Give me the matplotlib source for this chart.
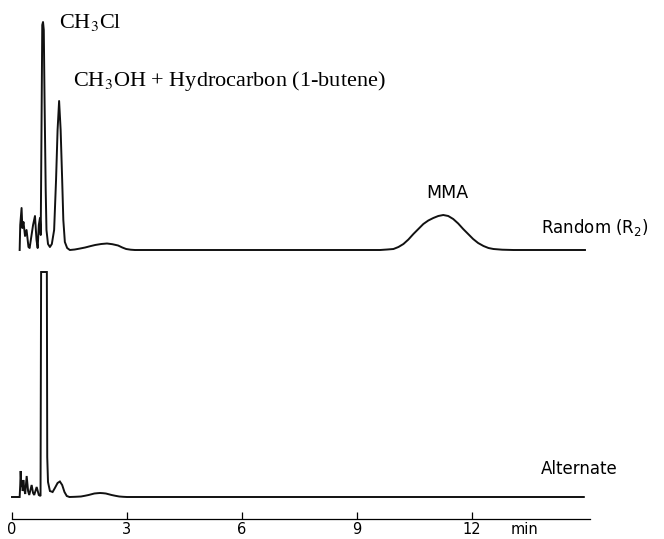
import matplotlib.pyplot as plt

# chromatogram traces, time in min, signal in arbitrary units above baseline
random_t = [0.20, 0.215, 0.25, 0.27, 0.30, 0.34, 0.38, 0.43, 0.46, 0.55, 0.60, 0.64,
            0.67, 0.70, 0.73, 0.75, 0.77, 0.79, 0.81, 0.83, 0.85, 0.88, 0.90, 0.94,
            0.99, 1.04, 1.10, 1.15, 1.19, 1.23, 1.27, 1.31, 1.34, 1.38, 1.44, 1.51,
            1.64, 1.78, 1.91, 2.04, 2.17, 2.33, 2.48, 2.62, 2.77, 2.88, 2.98, 3.10,
            3.21, 9.61, 9.80, 9.96, 10.09, 10.22, 10.35, 10.48, 10.61, 10.74, 10.87,
            11.00, 11.13, 11.26, 11.39, 11.52, 11.65, 11.78, 11.91, 12.04, 12.17,
            12.31, 12.44, 12.57, 12.80, 13.09, 14.96]
random_s = [0, 25, 42, 22, 28, 14, 20, 3, 2, 25, 34, 10,
            2, 25, 32, 15, 120, 225, 228, 220, 150, 60, 20, 6,
            3, 6, 20, 70, 120, 149, 120, 70, 30, 8, 2, 0,
            0.5, 1.5, 2.5, 3.8, 5, 6, 6.5, 5.8, 4.5, 2.5, 1, 0.3,
            0, 0, 0.5, 1, 3, 6, 10.5, 16, 21, 26, 29.5,
            32, 34, 35, 34, 31, 26.5, 21, 16, 11, 7,
            4, 2, 1, 0.3, 0, 0]

alternate_t = [0.0, 0.20, 0.215, 0.226, 0.245, 0.265, 0.28, 0.296, 0.32, 0.345, 0.383,
               0.42, 0.45, 0.513, 0.55, 0.58, 0.644, 0.70, 0.745, 0.76, 0.91, 0.92,
               0.94, 0.99, 1.06, 1.12, 1.19, 1.25, 1.31, 1.37, 1.43, 1.50, 1.65, 1.80,
               1.90, 2.00, 2.08, 2.15, 2.23, 2.30, 2.38, 2.45, 2.52, 2.60, 2.70, 2.80,
               2.90, 3.00, 14.93]
alternate_s = [0, 0, 12, 26, 10, 15, 6, 17, 8, 3, 21,
               6, 2, 12, 4, 2, 10, 2, 1, 225, 225, 40,
               15, 6, 5, 9, 14, 15.5, 12, 5, 1, 0, 0.2, 0.5,
               1.2, 2, 2.8, 3.5, 3.8, 4, 3.8, 3.5, 2.8, 2, 1.2, 0.5,
               0.2, 0, 0]

tick_values = [0, 3, 6, 9, 12]
tick_labels = ['0', '3', '6', '9', '12']

px = 38.3  # pixels per minute
fig = plt.figure(figsize=(6.64, 5.39), dpi=100)
ax = fig.add_axes([0, 0, 1, 1])
ax.set_xlim(-12 / px, 652 / px)
ax.set_ylim(0, 539)

top_off = 289
bot_off = 42

ax.plot(random_t, [s + top_off for s in random_s], color='#111111', lw=1.4,
        solid_joinstyle='round')
ax.plot(alternate_t, [s + bot_off for s in alternate_s], color='#111111', lw=1.4,
        solid_joinstyle='miter')

for side in ['top', 'left', 'right']:
    ax.spines[side].set_visible(False)
ax.spines['bottom'].set_position(('data', 20))
ax.spines['bottom'].set_bounds(0, 15.1)
ax.spines['bottom'].set_linewidth(0.9)
ax.set_yticks([])
ax.set_xticks(tick_values)
ax.set_xticklabels(tick_labels)
ax.tick_params(axis='x', direction='in', length=5, width=0.9, pad=2.5, labelsize=10.5)
ax.text(13.39, 20 - 2.5 / 0.72, 'min', ha='center', va='top', fontsize=10.5)

serif = ['Liberation Serif', 'DejaVu Serif']
ax.text(1.227, 511, r'CH$_3$Cl', family=serif, math_fontfamily='stix',
        fontsize=16, va='baseline')
ax.text(1.585, 453, r'CH$_3$OH + Hydrocarbon (1-butene)', family=serif,
        math_fontfamily='stix', fontsize=16, va='baseline')
ax.text(11.36, 346, 'MMA', ha='center', va='center', fontsize=12.5)
ax.text(13.81, 306, r'Random (R$_2$)', fontsize=12, va='baseline',
        math_fontfamily='dejavusans')
ax.text(13.81, 65, 'Alternate', fontsize=12, va='baseline')

fig.savefig('out.png', dpi=100)
